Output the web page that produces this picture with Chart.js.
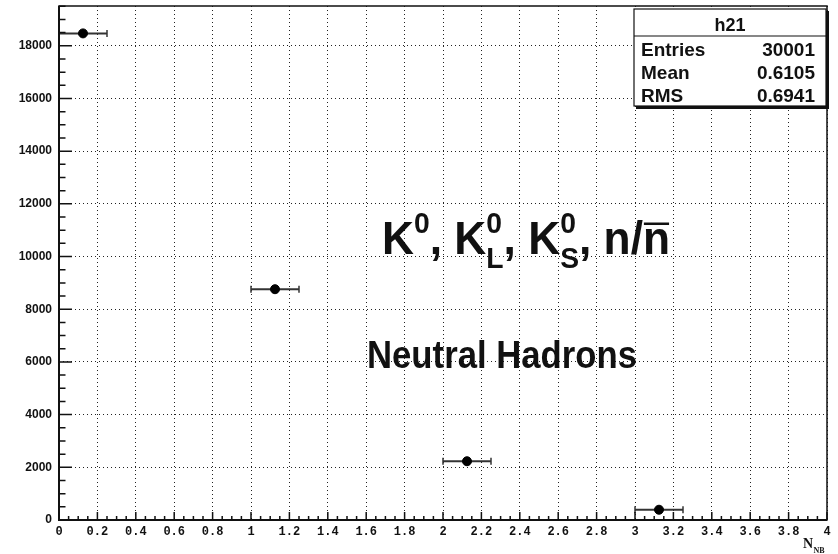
<!DOCTYPE html>
<html>
<head>
<meta charset="utf-8">
<title>h21 - neutral hadrons</title>
<script src="https://cdn.jsdelivr.net/npm/chart.js@4.4.1/dist/chart.umd.min.js"></script>
<style>
  html, body { margin: 0; padding: 0; background: #fff; }
  #wrap { width: 838px; height: 554px; }
</style>
</head>
<body>
<div id="wrap"><canvas id="c" width="838" height="554"></canvas></div>
<script>
// histogram h21: number of neutral hadrons per event
const binLow = [0, 1, 2, 3];
const binHigh = [0.25, 1.25, 2.25, 3.25];
const binCenter = [0.125, 1.125, 2.125, 3.125];
const counts = [18470, 8760, 2230, 390];

const xMin = 0, xMax = 4, xStep = 0.2;
const yMin = 0, yMax = 19510;
const yTickValues = [0, 2000, 4000, 6000, 8000, 10000, 12000, 14000, 16000, 18000];

const statsTitle = 'h21';
const statsNames = ['Entries', 'Mean', 'RMS'];
const statsValues = ['30001', '0.6105', '0.6941'];

const INK = '#111';

// one little line dataset per bin for the horizontal error bar
const errorBars = binLow.map((lo, i) => ({
  type: 'line',
  data: [{ x: lo, y: counts[i] }, { x: binHigh[i], y: counts[i] }],
  borderColor: '#333',
  borderWidth: 2,
  pointStyle: 'line',
  pointRotation: 90,
  pointRadius: 3.5,
  pointBorderColor: '#333',
  pointBorderWidth: 1.5,
  clip: false
}));

function fmtX(v) {
  return String(Math.round(v * 10) / 10);
}

// draws a run of text pieces, squeezed horizontally by sx
function drawRun(ctx, x, y, pieces, sx) {
  ctx.save();
  ctx.translate(x, y);
  ctx.scale(sx, 1);
  let cx = 0;
  pieces.forEach(p => {
    let w = 0;
    p.parts.forEach(q => {
      ctx.font = 'bold ' + q.size + 'px "Liberation Sans", Arial, sans-serif';
      ctx.fillText(q.t, cx, q.dy);
      const qw = ctx.measureText(q.t).width;
      if (q.bar) {
        ctx.fillRect(cx + 1, q.dy - q.size * 0.67, qw - 2, 2.5);
      }
      w = Math.max(w, qw);
    });
    cx += w;
  });
  ctx.restore();
}

function runWidth(ctx, pieces) {
  let total = 0;
  pieces.forEach(p => {
    let w = 0;
    p.parts.forEach(q => {
      ctx.font = 'bold ' + q.size + 'px "Liberation Sans", Arial, sans-serif';
      w = Math.max(w, ctx.measureText(q.t).width);
    });
    total += w;
  });
  return total;
}

const decorations = {
  id: 'decorations',
  afterDatasetsDraw(chart) {
    const { ctx, chartArea: a, scales: { x, y } } = chart;
    ctx.save();

    // frame
    ctx.strokeStyle = INK;
    ctx.lineWidth = 1.5;
    ctx.strokeRect(a.left, a.top, a.right - a.left, a.bottom - a.top);
    ctx.lineWidth = 2;
    ctx.beginPath();
    ctx.moveTo(a.left, a.top);
    ctx.lineTo(a.left, a.bottom);
    ctx.lineTo(a.right, a.bottom);
    ctx.stroke();

    // inward ticks on y: long every 2000, short every 500
    ctx.lineWidth = 1.5;
    ctx.beginPath();
    for (let v = yMin; v <= yMax; v += 500) {
      const py = y.getPixelForValue(v);
      const len = v % 2000 === 0 ? 13 : 6.5;
      ctx.moveTo(a.left, py);
      ctx.lineTo(a.left + len, py);
    }
    // inward ticks on x: long every 0.2, short every 0.05
    for (let k = 0; k <= 80; k++) {
      const v = k * 0.05;
      const px = x.getPixelForValue(v);
      const len = k % 4 === 0 ? 8 : 4;
      ctx.moveTo(px, a.bottom);
      ctx.lineTo(px, a.bottom - len);
    }
    ctx.stroke();

    // stats box
    const bx = 634, by = 9, bw = 192, bh = 97;
    ctx.fillStyle = INK;
    ctx.fillRect(bx + 2, by + 2, bw + 1, bh + 1);
    ctx.fillStyle = '#fff';
    ctx.fillRect(bx, by, bw, bh);
    ctx.lineWidth = 1.2;
    ctx.strokeStyle = INK;
    ctx.strokeRect(bx, by, bw, bh);
    ctx.beginPath();
    ctx.moveTo(bx, 36);
    ctx.lineTo(bx + bw, 36);
    ctx.stroke();

    ctx.fillStyle = INK;
    ctx.textBaseline = 'alphabetic';
    ctx.font = 'bold 18px "Liberation Sans", Arial, sans-serif';
    ctx.textAlign = 'center';
    ctx.fillText(statsTitle, bx + bw / 2, 31);
    ctx.font = 'bold 19px "Liberation Sans", Arial, sans-serif';
    statsNames.forEach((name, i) => {
      const base = 56 + i * 23;
      ctx.textAlign = 'left';
      ctx.fillText(name, 641, base);
      ctx.textAlign = 'right';
      ctx.fillText(statsValues[i], 815, base);
    });

    // particle list
    ctx.textAlign = 'left';
    const big = 47, small = 30;
    const title = [
      { parts: [{ t: 'K', size: big, dy: 0 }] },
      { parts: [{ t: '0', size: small, dy: -21 }] },
      { parts: [{ t: ', K', size: big, dy: 0 }] },
      { parts: [{ t: '0', size: small, dy: -21 }, { t: 'L', size: small, dy: 14 }] },
      { parts: [{ t: ', K', size: big, dy: 0 }] },
      { parts: [{ t: '0', size: small, dy: -21 }, { t: 'S', size: small, dy: 14 }] },
      { parts: [{ t: ', n/', size: big, dy: 0 }] },
      { parts: [{ t: 'n', size: big, dy: 0, bar: true }] }
    ];
    drawRun(ctx, 382, 254, title, 288 / runWidth(ctx, title));

    const sub = [{ parts: [{ t: 'Neutral Hadrons', size: 39, dy: 0 }] }];
    drawRun(ctx, 367, 368, sub, 270 / runWidth(ctx, sub));

    // x axis title N_NB
    ctx.font = 'bold 14px "Liberation Serif", "Times New Roman", serif';
    ctx.fillText('N', 803, 548);
    ctx.font = 'bold 8px "Liberation Serif", "Times New Roman", serif';
    ctx.fillText('NB', 813.5, 553);

    ctx.restore();
  }
};

new Chart(document.getElementById('c'), {
  type: 'scatter',
  data: {
    datasets: [
      {
        data: binCenter.map((c, i) => ({ x: c, y: counts[i] })),
        backgroundColor: '#000',
        borderColor: '#000',
        pointRadius: 4.5,
        pointHoverRadius: 4.5,
        clip: false
      },
      ...errorBars
    ]
  },
  options: {
    responsive: false,
    animation: false,
    events: [],
    layout: { padding: { top: 6, right: 11, left: 0, bottom: 0 } },
    plugins: { legend: { display: false }, tooltip: { enabled: false } },
    scales: {
      x: {
        type: 'linear',
        min: xMin,
        max: xMax,
        afterFit: s => {
          s.height = 34;
          s.paddingLeft = 0;
          s.paddingRight = 0;
        },
        ticks: {
          stepSize: xStep,
          padding: 5,
          color: INK,
          font: { family: '"Liberation Mono", "Courier New", monospace', size: 12, weight: 'bold' },
          maxRotation: 0,
          autoSkip: false,
          callback: v => fmtX(v)
        },
        grid: { color: '#222', lineWidth: 1, drawTicks: false },
        border: { display: false, dash: [1, 3] }
      },
      y: {
        type: 'linear',
        min: yMin,
        max: yMax,
        afterFit: s => {
          s.width = 59;
          s.paddingTop = 0;
          s.paddingBottom = 0;
        },
        afterBuildTicks: s => { s.ticks = yTickValues.map(v => ({ value: v })); },
        ticks: {
          padding: 7,
          color: INK,
          font: { family: '"Liberation Sans", Arial, sans-serif', size: 12, weight: 'bold' },
          callback: v => String(v)
        },
        grid: { color: '#222', lineWidth: 1, drawTicks: false },
        border: { display: false, dash: [1, 3] }
      }
    }
  },
  plugins: [decorations]
});
</script>
</body>
</html>
